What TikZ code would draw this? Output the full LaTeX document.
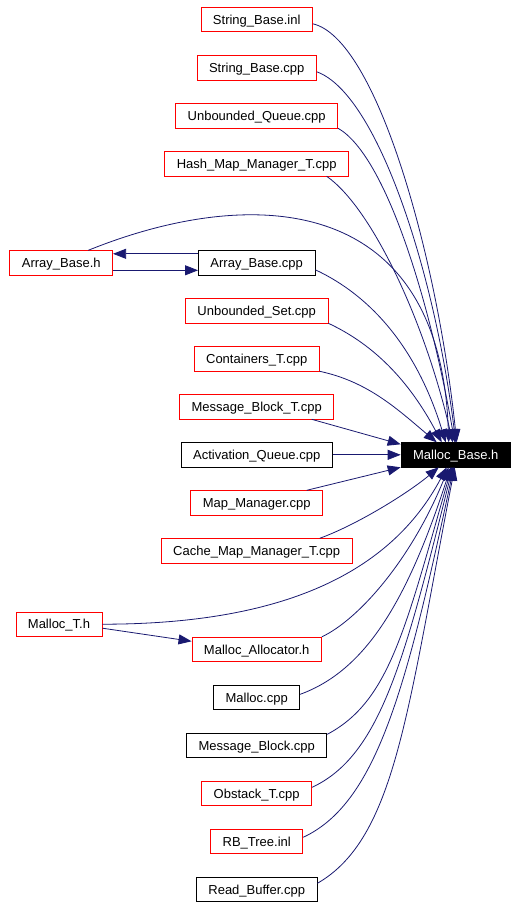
\documentclass[tikz,border=0pt]{standalone}
\usepackage{fontspec}
\setmainfont{Liberation Sans}
\usetikzlibrary{positioning, arrows.meta}
\definecolor{edgeblue}{RGB}{25,25,112}
\tikzset{dbox/.style={draw, line width=0.8pt, minimum height=24.2pt, inner xsep=12pt, inner ysep=0pt, text depth=0pt, font=\fontsize{13}{15}\selectfont}}
\tikzset{dred/.style={dbox, draw=red}}
\tikzset{dblk/.style={dbox, draw=black}}
\tikzset{dcur/.style={dbox, draw=black, fill=black, text=white}}
\tikzset{arrd/.style={draw=edgeblue, line width=0.8pt, -{Triangle[length=13pt,width=10pt]}}}

\begin{document}
\begin{tikzpicture}[x=1pt, y=1pt, node distance=23pt]
	\useasboundingbox (0,0) rectangle (517,-907);
	% file column
	\node[dred] (SBi) at (256.7,-19.8) {String\_Base.inl};
	\node[dred, below=of SBi] (SBc) {String\_Base.cpp};
	\node[dred, below=of SBc] (UQ) {Unbounded\_Queue.cpp};
	\node[dred, below=of UQ] (HM) {Hash\_Map\_Manager\_T.cpp};
	\node[dblk, below=74pt of HM] (AC) {Array\_Base.cpp};
	\node[dred, below=of AC] (US) {Unbounded\_Set.cpp};
	\node[dred, below=of US] (CT) {Containers\_T.cpp};
	\node[dred, below=of CT] (MT) {Message\_Block\_T.cpp};
	\node[dblk, below=of MT] (AQ) {Activation\_Queue.cpp};
	\node[dred, below=of AQ] (MM) {Map\_Manager.cpp};
	\node[dred, below=of MM] (CM) {Cache\_Map\_Manager\_T.cpp};
	\node[dred, below=73.5pt of CM] (MA) {Malloc\_Allocator.h};
	\node[dblk, below=of MA] (MC) {Malloc.cpp};
	\node[dblk, below=of MC] (MBk) {Message\_Block.cpp};
	\node[dred, below=of MBk] (OT) {Obstack\_T.cpp};
	\node[dred, below=of OT] (RB) {RB\_Tree.inl};
	\node[dblk, below=of RB] (RF) {Read\_Buffer.cpp};
	% left and right
	\node[dred, left=85pt of AC] (AH) {Array\_Base.h};
	\node[dred] (ML) at (59,-624.2) {Malloc\_T.h};
	\node[dcur, right=68pt of AQ] (MB) {Malloc\_Base.h};

	\draw[arrd] ([yshift=-4pt]SBi.east) to[out=-13, in=96, out distance=65pt, in distance=190pt] ([xshift=1pt]MB.north);
	\draw[arrd] ([yshift=-4pt]SBc.east) to[out=-20, in=97, out distance=65pt, in distance=170pt] (MB.north);
	\draw[arrd] (UQ.south east) to[out=-30, in=100, out distance=55pt, in distance=145pt] ([xshift=-1pt]MB.north);
	\draw[arrd] ([xshift=70pt]HM.south) to[out=-35, in=103, out distance=55pt, in distance=125pt] ([xshift=-3pt]MB.north);
	\draw[arrd] ([xshift=27pt]AH.north) to[out=22, in=92, out distance=176pt, in distance=250pt] ([xshift=-7pt]MB.north);
	\draw[arrd] ([yshift=-7pt]AC.east) to[out=-25, in=107, out distance=60pt, in distance=100pt] ([xshift=-10pt]MB.north);
	\draw[arrd] (US.south east) to[out=-25, in=118, out distance=50pt, in distance=70pt] ([xshift=-14pt]MB.north);
	\draw[arrd] (CT.south east) to[out=-12, in=140, out distance=50pt, in distance=50pt] ([xshift=-19pt]MB.north);
	\draw[arrd] ([xshift=55pt]MT.south) -- ([yshift=-2pt]MB.north west);
	\draw[arrd] (AQ.east) -- (MB.west);
	\draw[arrd] ([xshift=50pt]MM.north) -- (MB.south west);
	\draw[arrd] ([xshift=63pt]CM.north) to[out=20, in=-140, out distance=40pt, in distance=40pt] ([xshift=-17pt]MB.south);
	\draw[arrd] (ML.east) to[out=0, in=-118, out distance=180pt, in distance=120pt] ([xshift=-9pt]MB.south);
	\draw[arrd] (MA.north east) to[out=25, in=-112, out distance=40pt, in distance=100pt] ([xshift=-7pt]MB.south);
	\draw[arrd] ([yshift=3pt]MC.east) to[out=20, in=-108, out distance=70pt, in distance=140pt] ([xshift=-5pt]MB.south);
	\draw[arrd] ([yshift=11pt]MBk.east) to[out=28, in=-106, out distance=70pt, in distance=170pt] ([xshift=-4pt]MB.south);
	\draw[arrd] ([yshift=6pt]OT.east) to[out=25, in=-104, out distance=75pt, in distance=200pt] ([xshift=-3pt]MB.south);
	\draw[arrd] ([yshift=4pt]RB.east) to[out=25, in=-102, out distance=80pt, in distance=230pt] ([xshift=-2pt]MB.south);
	\draw[arrd] ([yshift=6pt]RF.east) to[out=30, in=-101, out distance=90pt, in distance=250pt] ([xshift=-1pt]MB.south);

	\draw[arrd] ([yshift=-4pt]ML.east) -- ([yshift=8pt]MA.west);
	\draw[arrd] ([yshift=9pt]AC.west) -- ([yshift=9pt]AH.east);
	\draw[arrd] ([yshift=-7.5pt]AH.east) -- ([yshift=-7.5pt]AC.west);
\end{tikzpicture}
\end{document}
